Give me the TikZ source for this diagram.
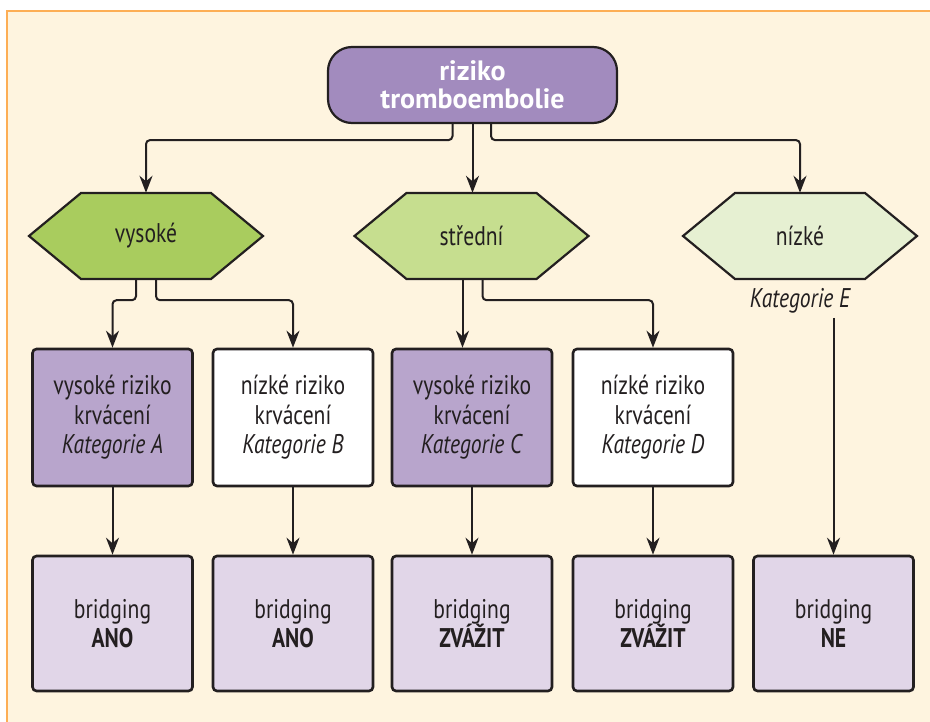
\documentclass[tikz,border=0pt]{standalone}
\usepackage{fontspec}
\setmainfont{PT Sans}[FakeStretch=0.8]
\newfontfamily\topfont{PT Sans}
\usetikzlibrary{arrows.meta}
\definecolor{ink}{HTML}{231F20}
\definecolor{cream}{HTML}{FEF4DF}
\definecolor{frameorange}{HTML}{FDAE55}
\definecolor{topviolet}{HTML}{A28BBE}
\definecolor{boxviolet}{HTML}{B8A5CC}
\definecolor{lightviolet}{HTML}{E1D6E8}
\definecolor{greenA}{HTML}{A9CC5E}
\definecolor{greenB}{HTML}{C6DE8F}
\definecolor{greenC}{HTML}{E6F0D2}
\newcommand{\hexfig}[3]{\filldraw[hexline, fill=#3] ({#1-117},#2) -- ({#1-65},{#2-43}) -- ({#1+65},{#2-43}) -- ({#1+117},#2) -- ({#1+65},{#2+43}) -- ({#1-65},{#2+43}) -- cycle;}
\tikzset{
  hexline/.style={draw=ink, line width=2.2pt, line join=miter},
  txt/.style={font=\fontsize{27}{29.5}\selectfont, text=ink},
  hexnode/.style={txt, minimum width=234pt, minimum height=86pt, inner sep=0pt},
  topnode/.style={fill=topviolet, draw=ink, line width=2.2pt, rounded corners=24pt,
    minimum width=289pt, minimum height=76pt, inner sep=0pt, text=white,
    font=\topfont\bfseries\fontsize{28}{28}\selectfont, align=center},
  box/.style={txt, draw=ink, line width=2.6pt, rounded corners=4pt, minimum width=160pt,
    minimum height=137pt, inner sep=0pt, align=center},
  rbox/.style={box, minimum height=135pt, fill=lightviolet},
  conn/.style={draw=ink, line width=2pt, -{Stealth[length=17pt,width=13pt]}, rounded corners=4pt}
}
\begin{document}
\begin{tikzpicture}[x=1pt,y=-1pt]
\useasboundingbox (0,0) rectangle (930,722);
\fill[white] (0,0) rectangle (930,722);
\filldraw[fill=cream, draw=frameorange, line width=2pt] (6.5,11) rectangle (940,735);

\node[topnode] (top) at (472.5,85) {riziko\\tromboembolie};

\hexfig{146}{236}{greenA}
\node[hexnode] (hv) at (146,236) {vysoké};
\hexfig{471.5}{236}{greenB}
\node[hexnode] (hm) at (471.5,236) {střední};
\hexfig{800}{236}{greenC}
\node[hexnode] (hn) at (800,236) {nízké};
\node[txt, font=\itshape\fontsize{27}{29.5}\selectfont] (kE) at (800,301) {Kategorie E};

\node[box, fill=boxviolet] (bA) at (112.5,417.5) {vysoké riziko\\krvácení\\\textit{Kategorie A}};
\node[box, fill=white] (bB) at (293,417.5) {nízké riziko\\krvácení\\\textit{Kategorie B}};
\node[box, fill=boxviolet] (bC) at (472,417.5) {vysoké riziko\\krvácení\\\textit{Kategorie C}};
\node[box, fill=white] (bD) at (653,417.5) {nízké riziko\\krvácení\\\textit{Kategorie D}};

\node[rbox] (rA) at (112.5,623.5) {bridging\\\textbf{ANO}};
\node[rbox] (rB) at (293,623.5) {bridging\\\textbf{ANO}};
\node[rbox] (rC) at (472,623.5) {bridging\\\textbf{ZVÁŽIT}};
\node[rbox] (rD) at (653,623.5) {bridging\\\textbf{ZVÁŽIT}};
\node[rbox] (rE) at (833.5,623.5) {bridging\\\textbf{NE}};

\draw[conn] ([xshift=-20pt]top.south) -- ++(0,16) -| (hv.north);
\draw[conn] (top.south) -- (top.south |- hm.north);
\draw[conn] ([xshift=18.5pt]top.south) -- ++(0,16) -| (hn.north);

\draw[conn] ([xshift=-10pt]hv.south) -- ++(0,21) -| (bA.north);
\draw[conn] ([xshift=10pt]hv.south) -- ++(0,21) -| (bB.north);
\draw[conn] ([xshift=-9pt]hm.south) -- ([xshift=-9pt]hm.south |- bC.north);
\draw[conn] ([xshift=11pt]hm.south) -- ++(0,21) -| (bD.north);

\draw[conn] (bA.south) -- (rA.north);
\draw[conn] (bB.south) -- (rB.north);
\draw[conn] (bC.south) -- (rC.north);
\draw[conn] (bD.south) -- (rD.north);
\coordinate (eTop) at (833.5,318);
\draw[conn] (eTop) -- (rE.north);
\end{tikzpicture}
\end{document}
